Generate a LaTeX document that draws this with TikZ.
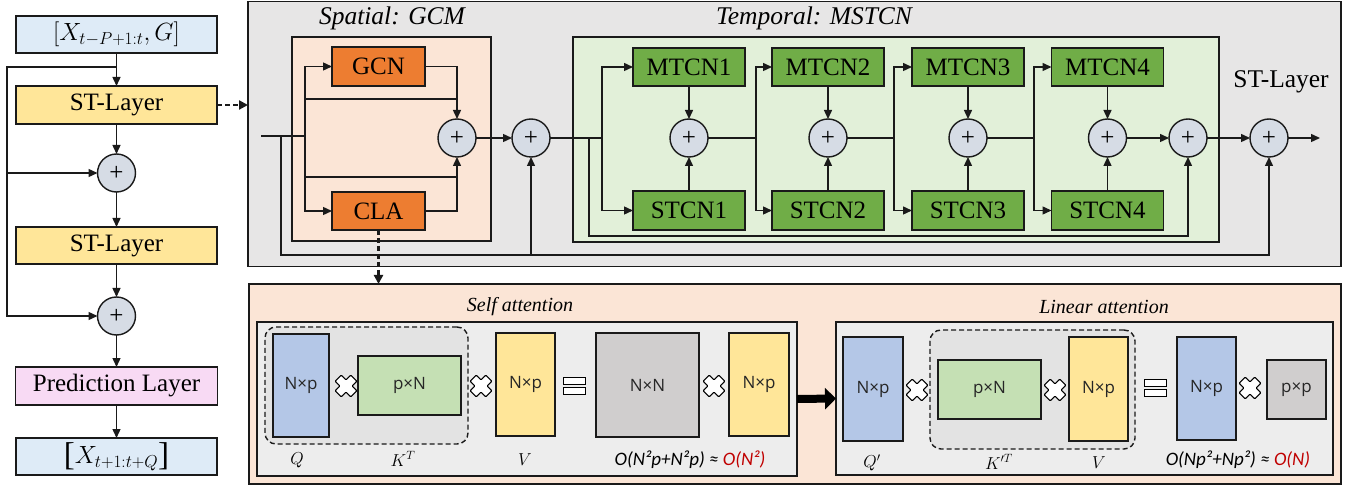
\documentclass[tikz,border=0pt]{standalone}
\usepackage{fontspec}
\setmainfont{Liberation Serif}
\newfontfamily\osans{Open Sans}
\newfontfamily\carl{Carlito}
\usetikzlibrary{arrows.meta,calc}
\definecolor{inblue}{HTML}{DEEBF7}
\definecolor{styellow}{HTML}{FFE699}
\definecolor{predpink}{HTML}{F8DAF4}
\definecolor{pluscol}{HTML}{D6DCE5}
\definecolor{stgray}{HTML}{E7E6E6}
\definecolor{peach}{HTML}{FBE5D6}
\definecolor{orng}{HTML}{ED7D31}
\definecolor{lgreen}{HTML}{E2F0D9}
\definecolor{dgreen}{HTML}{70AD47}
\definecolor{ingray}{HTML}{EDEDED}
\definecolor{dashgray}{HTML}{E3E3E3}
\definecolor{matblue}{HTML}{B4C7E7}
\definecolor{matgreen}{HTML}{C5E0B4}
\definecolor{matgray}{HTML}{D0CECE}
\definecolor{cred}{HTML}{C00000}
\definecolor{edge}{HTML}{1A1A1A}
\tikzset{
  xmark/.pic={\draw[line width=1.1pt, fill=white, rotate=45, rounded corners=0.8pt]
    (4.3,11)--(4.3,4.3)--(11,4.3)--(11,-4.3)--(4.3,-4.3)--(4.3,-11)--(-4.3,-11)--(-4.3,-4.3)--(-11,-4.3)--(-11,4.3)--(-4.3,4.3)--(-4.3,11)--cycle;},
  eqmark/.pic={\draw[line width=1pt, fill=white] (-11,-8.5) rectangle (11,-1.8);
    \draw[line width=1pt, fill=white] (-11,1.8) rectangle (11,8.5);}
}
\newcommand{\bigbr}[1]{{\fontsize{33}{33}\selectfont\raisebox{-1.5pt}{#1}}}
\begin{document}
\begin{tikzpicture}[x=1pt,y=-1pt,
  every node/.style={inner sep=0pt, outer sep=0pt},
  ln/.style={line width=1.4pt, draw=edge},
  arr/.style={ln, -{Triangle[length=9pt,width=8pt]}},
  dsh/.style={draw=edge, line width=2.2pt, dash pattern=on 5pt off 3pt, -{Triangle[length=9pt,width=9pt]}},
  bx/.style={draw=edge, line width=1.4pt, font=\fontsize{25}{30}\selectfont},
  lbox/.style={bx, minimum width=201, minimum height=37},
  plus/.style={circle, draw=edge, line width=1.4pt, fill=pluscol, minimum size=38pt, font=\fontsize{25}{25}\selectfont},
  tcn/.style={bx, fill=dgreen, minimum width=112, minimum height=38},
  mat/.style={draw=edge, line width=1.4pt, font=\osans\fontsize{17}{20}\selectfont, text=black!85},
  ttl/.style={font=\itshape\fontsize{25.5}{30}\selectfont},
  att/.style={font=\itshape\fontsize{20}{24}\selectfont},
  sym/.style={font=\fontsize{18}{22}\selectfont},
  cplx/.style={font=\carl\itshape\fontsize{19}{22}\selectfont}
]
\useasboundingbox (0,0) rectangle (1357,486);
% ---------- containers ----------
\node[draw=edge, line width=1.4pt, fill=stgray, minimum width=1093, minimum height=265] (stl) at (794.5,134) {};
\node[draw=edge, line width=1.4pt, fill=peach, minimum width=199, minimum height=204] (gcm) at (391.5,139) {};
\node[draw=edge, line width=1.4pt, fill=lgreen, minimum width=646, minimum height=205] (mstcn) at (896,139.5) {};
\node[draw=edge, line width=1.4pt, fill=peach, minimum width=1092, minimum height=200] (panel) at (795,384) {};
\node[ttl] (tgcm) at (392,18) {Spatial: GCM};
\node[ttl] (tmst) at (814,18) {Temporal: MSTCN};
\node[font=\fontsize{25.5}{30}\selectfont] (tstl) at (1281,82) {ST-Layer};
% ---------- left column ----------
\node[lbox, fill=inblue] (in) at (116.5,34.5) {$[X_{t-P+1:t},G]$};
\node[lbox, fill=styellow, minimum height=38] (st1) at (116.5,105) {ST-Layer};
\node[plus] (p1) at (116.5,173) {+};
\node[lbox, fill=styellow] (st2) at (116.5,245.5) {ST-Layer};
\node[plus] (p2) at (116.5,316) {+};
\node[lbox, fill=predpink, minimum width=202, minimum height=38] (pred) at (116.5,386) {Prediction Layer};
\node[lbox, fill=inblue] (out) at (116.5,456.5) {\bigbr{[}$X_{t+1:t+Q}$\bigbr{]}};
\coordinate (lb) at (116.5,67);
\coordinate (lc) at (7,67);
\coordinate (lp1) at (7,173);
\coordinate (lp2) at (7,316);
\draw[arr] (in.south) -- (st1.north);
\draw[arr] (lb) -- (lc) -- (lp2) -- (p2.west);
\draw[arr] (lp1) -- (p1.west);
\draw[arr] (st1.south) -- (p1.north);
\draw[arr] (p1.south) -- (st2.north);
\draw[arr] (st2.south) -- (p2.north);
\draw[arr] (p2.south) -- (pred.north);
\draw[arr] (pred.south) -- (out.north);
\draw[dsh] (st1.east) -- (st1.east -| stl.west);
% ---------- spatial ----------
\node[bx, fill=orng, minimum width=93, minimum height=39] (GCN) at (378.5,66.5) {GCN};
\node[bx, fill=orng, minimum width=93, minimum height=38] (CLA) at (378.5,211) {CLA};
\node[plus] (pg) at (457,138) {+};
\node[plus] (po) at (531,138) {+};
\coordinate (sin) at (261,136);
\coordinate (bs) at (305,136);
\coordinate (g1) at (305,99);
\coordinate (g2) at (305,177);
\draw[ln] (sin) -- (bs);
\draw[arr] (bs) |- (GCN.west);
\draw[arr] (bs) |- (CLA.west);
\draw[ln] (g1) -- (g1 -| pg);
\draw[ln] (g2) -- (g2 -| pg);
\draw[arr] (GCN.east) -| (pg.north);
\draw[arr] (CLA.east) -| (pg.south);
\draw[arr] (pg.east) -- (po.west);
% ---------- temporal ----------
\node[tcn] (M1) at (689,67) {MTCN1};
\node[tcn] (M2) at (828,67) {MTCN2};
\node[tcn] (M3) at (968,67) {MTCN3};
\node[tcn] (M4) at (1107.5,67) {MTCN4};
\node[tcn, minimum height=39] (S1) at (689,210.5) {STCN1};
\node[tcn, minimum height=39] (S2) at (828,210.5) {STCN2};
\node[tcn, minimum height=39] (S3) at (968,210.5) {STCN3};
\node[tcn, minimum height=39] (S4) at (1107.5,210.5) {STCN4};
\node[plus] (t1) at (689,138) {+};
\node[plus] (t2) at (828,138) {+};
\node[plus] (t3) at (968,138) {+};
\node[plus] (t4) at (1107.5,138) {+};
\node[plus] (p5) at (1188,138) {+};
\node[plus] (pf) at (1269,138) {+};
\coordinate (tb1) at (602,138);
\coordinate (tb2) at (756,138);
\coordinate (tb3) at (894,138);
\coordinate (tb4) at (1034,138);
\coordinate (q0) at (589,138);
\coordinate (q1) at (589,236);
\coordinate (r0) at (281,136);
\coordinate (r1) at (281,255);
\coordinate (oend) at (1320,138);
\draw[ln] (po.east) -- (tb1);
\draw[ln] (t1.east) -- (tb2);
\draw[ln] (t2.east) -- (tb3);
\draw[ln] (t3.east) -- (tb4);
\foreach \i in {1,2,3,4}{
  \draw[arr] (tb\i) |- (M\i.west);
  \draw[arr] (tb\i) |- (S\i.west);
  \draw[arr] (M\i.south) -- (t\i.north);
  \draw[arr] (S\i.north) -- (t\i.south);
}
\draw[arr] (t4.east) -- (p5.west);
\draw[arr] (p5.east) -- (pf.west);
\draw[arr] (pf.east) -- (oend);
\draw[arr] (q0) -- (q1) -| (p5.south);
\draw[arr] (r0) -- (r1) -| (pf.south);
\draw[arr] (r1 -| po) -- (po.south);
% ---------- attention panel ----------
\draw[dsh] (CLA.south) -- (CLA.south |- panel.north);
\node[draw=edge, line width=1.4pt, fill=ingray, minimum width=540, minimum height=154] (sa) at (527,399) {};
\node[draw=edge, line width=1.4pt, fill=ingray, minimum width=497, minimum height=153] (la) at (1084.5,398.5) {};
\node[att] (tsa) at (520,307) {Self attention};
\node[att] (tla) at (1104,307) {Linear attention};
\draw[line width=8pt, draw=black, -{Triangle[length=11pt,width=21pt]}] (sa.east) -- (la.west);
% self attention
\node[draw=edge, line width=1.4pt, dash pattern=on 5pt off 3pt, rounded corners=11pt, fill=dashgray, minimum width=203, minimum height=117] (d1) at (366.5,385.5) {};
\node[mat, fill=matblue, minimum width=56, minimum height=103] (Q) at (301,385.5) {N×p};
\node[mat, fill=matgreen, minimum width=103, minimum height=59] (KT) at (409.5,385.5) {p×N};
\node[mat, fill=styellow, minimum width=59, minimum height=103] (V) at (525.5,384.5) {N×p};
\node[mat, fill=matgray, minimum width=103, minimum height=104] (NN) at (647.5,385) {N×N};
\node[mat, fill=styellow, minimum width=60, minimum height=103] (V2) at (759,384.5) {N×p};
\pic at (346,386) {xmark};
\pic at (481,386) {xmark};
\pic at (714,386) {xmark};
\pic at (574,386) {eqmark};
\node[sym] (lq) at (297,460) {$Q$};
\node[sym] (lk) at (403,459) {$K^{T}$};
\node[sym] (lv) at (525,460) {$V$};
\node[cplx] (c1) at (690,460) {O(N²p+N²p) ≈ \textcolor{cred}{O(N²)}};
% linear attention
\node[draw=edge, line width=1.4pt, dash pattern=on 5pt off 3pt, rounded corners=11pt, fill=dashgray, minimum width=205, minimum height=119] (d2) at (1032.5,389.5) {};
\node[mat, fill=matblue, minimum width=60, minimum height=104] (Qp) at (873,389) {N×p};
\node[mat, fill=matgreen, minimum width=103, minimum height=59] (KpT) at (989.5,389.5) {p×N};
\node[mat, fill=styellow, minimum width=59, minimum height=104] (Vl) at (1098.5,389) {N×p};
\node[mat, fill=matblue, minimum width=59, minimum height=103] (R) at (1206.5,388.5) {N×p};
\node[mat, fill=matgray, minimum width=59, minimum height=59] (PP) at (1296.5,389.5) {p×p};
\pic at (917,390) {xmark};
\pic at (1055,390) {xmark};
\pic at (1250,388) {xmark};
\pic at (1155,388) {eqmark};
\node[sym] (lq2) at (872,463) {$Q'$};
\node[sym] (lk2) at (999,462) {$K'^{T}$};
\node[sym] (lv2) at (1099,463) {$V$};
\node[cplx] (c2) at (1238,460) {O(Np²+Np²) ≈ \textcolor{cred}{O(N)}};
\end{tikzpicture}
\end{document}
